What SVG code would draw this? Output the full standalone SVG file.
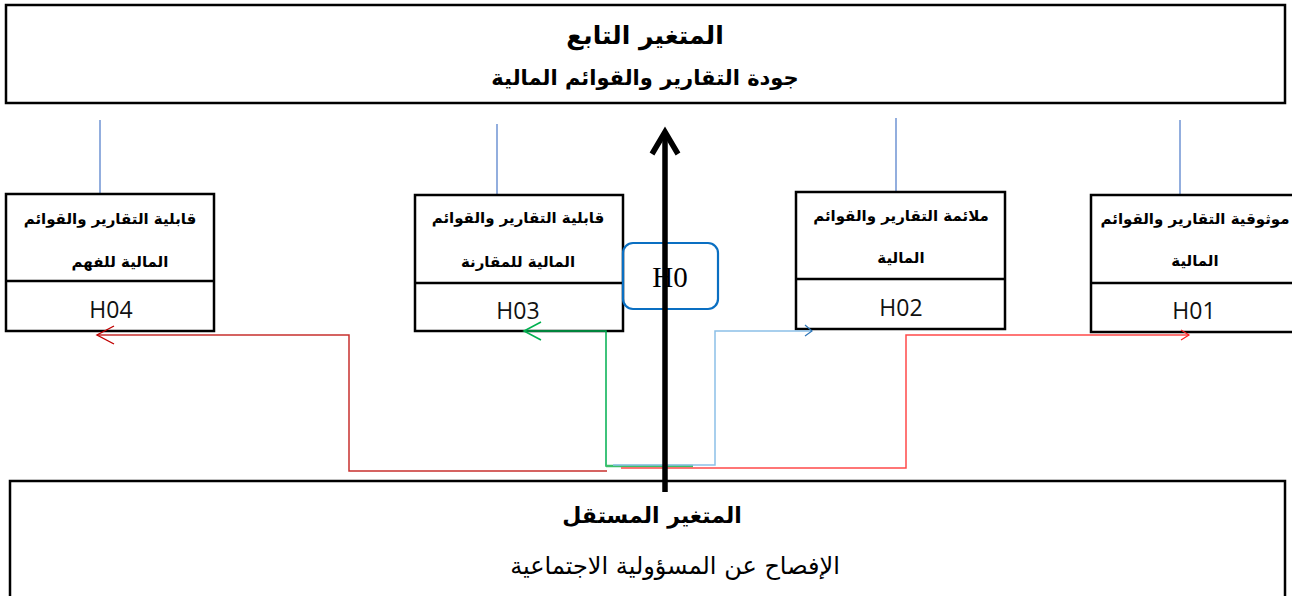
<svg xmlns="http://www.w3.org/2000/svg" width="1292" height="596" viewBox="0 0 1292 596">
<style>
.box{fill:#fff;stroke:#000;stroke-width:2.5}
.ar{font-family:"DejaVu Sans",sans-serif;text-anchor:middle;fill:#000}
.hd{font-weight:bold;font-size:25px}
.sub{font-weight:bold;font-size:21px}
.lbl{font-weight:bold;font-size:15px}
.h{font-family:"Open Sans","Noto Sans",sans-serif;font-size:23px;text-anchor:middle;fill:#111}
.vl{stroke:#4a78c8;stroke-width:1.2}
.c{fill:none;stroke-width:1.5}
</style>
<defs>
<marker id="ahRedL" markerWidth="20" markerHeight="20" refX="18" refY="10" orient="auto" markerUnits="userSpaceOnUse"><path d="M1 1 L18 10 L1 19" fill="none" stroke="#c00000" stroke-width="1.4"/></marker>
<marker id="ahGreen" markerWidth="20" markerHeight="20" refX="18" refY="10" orient="auto" markerUnits="userSpaceOnUse"><path d="M1 1 L18 10 L1 19" fill="none" stroke="#00b050" stroke-width="1.6"/></marker>
<marker id="ahBlue" markerWidth="12" markerHeight="14" refX="8" refY="7" orient="auto" markerUnits="userSpaceOnUse"><path d="M1 1 L8 7 L1 12" fill="none" stroke="#2e75b6" stroke-width="1.2"/></marker>
<marker id="ahRedR" markerWidth="12" markerHeight="14" refX="9" refY="7" orient="auto" markerUnits="userSpaceOnUse"><path d="M1 2 L9 7 L1 12" fill="none" stroke="#ff2020" stroke-width="1.2"/></marker>
</defs>

<g id="dependent">
<rect class="box" x="6" y="5" width="1279" height="98"/>
<text class="ar hd" x="645" y="44" direction="rtl">المتغير التابع</text>
<text class="ar sub" x="645" y="85" direction="rtl">جودة التقارير والقوائم المالية</text>
</g>

<g id="independent">
<rect class="box" x="10" y="481" width="1275" height="130"/>
<text class="ar hd" x="652" y="523" style="font-size:22px" direction="rtl">المتغير المستقل</text>
<text class="ar" x="675" y="574" style="font-size:24px" direction="rtl">الإفصاح عن المسؤولية الاجتماعية</text>
</g>

<g id="links">
<line class="vl" x1="100" y1="120" x2="100" y2="205"/>
<line class="vl" x1="497" y1="124" x2="497" y2="208"/>
<line class="vl" x1="896" y1="118" x2="896" y2="203"/>
<line class="vl" x1="1180" y1="120" x2="1180" y2="205"/>
</g>

<g id="node-h04">
<rect class="box" x="6" y="194" width="208" height="137"/>
<line stroke="#000" stroke-width="2.5" x1="6" y1="281" x2="214" y2="281"/>
<text class="ar lbl" x="110" y="224" direction="rtl">قابلية التقارير والقوائم</text>
<text class="ar lbl" x="120" y="267" direction="rtl">المالية للفهم</text>
<text class="h" x="111" y="318">H04</text>
</g>

<g id="node-h03">
<rect class="box" x="415" y="195" width="208" height="136"/>
<line stroke="#000" stroke-width="2.5" x1="415" y1="283" x2="623" y2="283"/>
<text class="ar lbl" x="518" y="223" direction="rtl">قابلية التقارير والقوائم</text>
<text class="ar lbl" x="518" y="267" direction="rtl">المالية للمقارنة</text>
<text class="h" x="518" y="319">H03</text>
</g>

<g id="node-h02">
<rect class="box" x="796" y="192" width="209" height="137"/>
<line stroke="#000" stroke-width="2.5" x1="796" y1="279" x2="1005" y2="279"/>
<text class="ar lbl" x="901" y="221" direction="rtl">ملائمة التقارير والقوائم</text>
<text class="ar lbl" x="901" y="263" direction="rtl">المالية</text>
<text class="h" x="901" y="316">H02</text>
</g>

<g id="node-h01">
<rect class="box" x="1091" y="195" width="210" height="137"/>
<line stroke="#000" stroke-width="2.5" x1="1091" y1="283" x2="1301" y2="283"/>
<text class="ar lbl" x="1195" y="224" direction="rtl">موثوقية التقارير والقوائم</text>
<text class="ar lbl" x="1195" y="266" direction="rtl">المالية</text>
<text class="h" x="1194" y="319">H01</text>
</g>

<g id="node-h0">
<rect x="623" y="243" width="95" height="66" rx="10" fill="none" stroke="#0a6fc2" stroke-width="2.2"/>
<text x="670" y="287" style="font-family:'Liberation Serif',serif;font-size:29px;text-anchor:middle;fill:#000">H0</text>
</g>

<g id="connectors">
<path class="c" d="M607 471 H349 V335 H97" stroke="#c8302e" marker-end="url(#ahRedL)"/>
<path class="c" d="M693 466 H606 V331 H524" stroke="#00b050" marker-end="url(#ahGreen)"/>
<path d="M606 466 H693" stroke="#3cbf6a" stroke-width="2.5" fill="none"/>
<path class="c" d="M613 465 H715 V331 H812" stroke="#8cc0e8" marker-end="url(#ahBlue)"/>
<path class="c" d="M621 468 H906 V335 H1189" stroke="#ff4a4a" marker-end="url(#ahRedR)"/>
<line x1="665" y1="492" x2="665" y2="133" stroke="#000" stroke-width="5.5"/>
<polyline points="652,154 665,132 678,154" fill="none" stroke="#000" stroke-width="5.5" stroke-linejoin="miter"/>
</g>
</svg>
